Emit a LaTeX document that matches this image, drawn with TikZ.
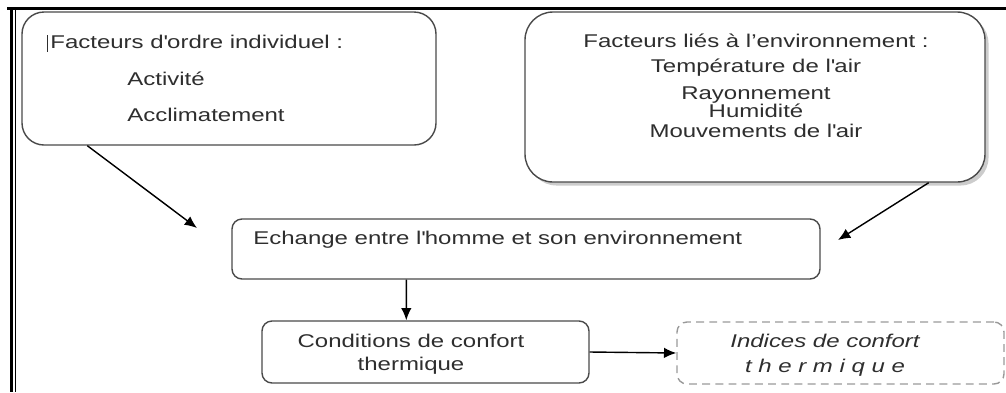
\documentclass[tikz,border=0pt]{standalone}
\usepackage{fontspec}
\setmainfont{Liberation Sans}[FakeStretch=1.3]
\usetikzlibrary{arrows.meta,shadows}

\definecolor{trait}{HTML}{4A4A4A}
\definecolor{texte}{HTML}{2E2E2E}
\newcommand{\apos}{\textquotesingle}

\tikzset{
	facteur/.style={draw=trait, line width=0.8pt, fill=white, rounded corners=0.44cm},
	etape/.style={draw=trait, line width=0.8pt, rounded corners=0.2cm},
	indice/.style={draw=gray!80, line width=0.8pt, dash pattern=on 4.5pt off 3pt, rounded corners=0.2cm},
	libelle/.style={text=texte, inner sep=0pt, font=\fontsize{10.5}{12.6}\selectfont},
	fleche/.style={-{Latex[length=7pt,width=6pt]}, line width=0.8pt, black}
}

\begin{document}
\begin{tikzpicture}
		\useasboundingbox (0,0) rectangle (20.12,-7.84);
		% cadre de la page
		\draw[line width=1.7pt] (0.15,-0.16) -- (20.12,-0.16);
		\draw[line width=1.7pt] (0.23,-0.16) -- (0.23,-7.84);
		\draw[line width=0.6pt] (0.31,-0.2) -- (0.31,-7.84);
		% boites
		\node[facteur, minimum width=8.28cm, minimum height=2.66cm] (indiv) at (4.58,-1.57) {};
		\node[facteur, rounded corners=0.56cm, minimum width=9.2cm, minimum height=3.4cm,
			drop shadow={shadow xshift=2pt, shadow yshift=-2pt, fill=gray!80}] (env) at (15.1,-1.94) {};
		\node[etape, minimum width=11.76cm, minimum height=1.2cm] (echange) at (10.52,-4.98) {};
		\node[etape, minimum width=6.54cm, minimum height=1.24cm] (cond) at (8.51,-7.04) {};
		\node[indice, minimum width=6.54cm, minimum height=1.24cm] (indices) at (16.81,-7.06) {};
		% textes (ancre sur la derniere ligne)
		\node[libelle, anchor=base west, align=left] (indivtxt) at (1.0,-2.42)
			{Facteurs d\apos ordre individuel :\\[8pt]\hspace*{1.54cm}Activité\\[7.8pt]\hspace*{1.54cm}Acclimatement};
		\draw[line width=0.5pt, texte] (0.94,-0.70) -- (0.94,-1.04);
		\node[libelle, anchor=base, align=center] (envtxt) at (15.12,-2.74)
			{Facteurs liés à l’environnement :\\[1.6pt]Température de l\apos air\\[2.6pt]Rayonnement\\[-2pt]Humidité\\[-1.6pt]Mouvements de l\apos air};
		\node[libelle, anchor=base west] (echangetxt) at (5.06,-4.88) {Echange entre l\apos homme et son environnement};
		\node[libelle, anchor=base, align=center] (condtxt) at (8.22,-7.40) {Conditions de confort\\[0.4pt]thermique};
		\node[libelle, anchor=base, align=center, font=\fontsize{10.5}{12.6}\selectfont\itshape] (indicestxt) at (16.5,-7.44)
			{Indices de confort\\[1.6pt]t h e r m i q u e};
		% fleches
		\coordinate (pointeA) at (3.94,-4.56);
		\coordinate (pointeB) at (16.76,-4.80);
		\draw[fleche] ([xshift=1.32cm]indiv.south west) -- (pointeA);
		\draw[fleche] ([xshift=-1.14cm]env.south east) -- (pointeB);
		\draw[fleche] ([xshift=3.5cm]echange.south west) -- ([xshift=2.9cm]cond.north west);
		\draw[fleche] (cond.east) -- (indices.west);
	\end{tikzpicture}
\end{document}
